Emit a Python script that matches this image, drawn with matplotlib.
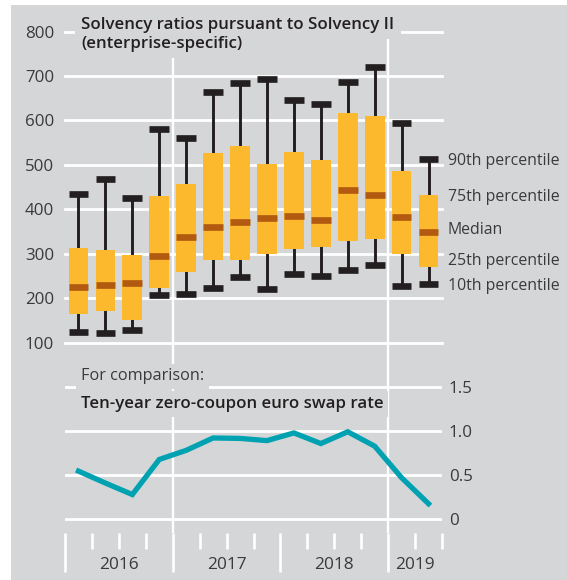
import numpy as np
import matplotlib
matplotlib.use('Agg')
import matplotlib.pyplot as plt
from matplotlib.patches import Rectangle
import matplotlib.transforms as mtransforms

plt.rcParams['font.family'] = ['Open Sans', 'DejaVu Sans']

# solvency ratios per quarter, Q1 2016 .. Q2 2019 (percentiles in %)
quarters = ['Q1 2016', 'Q2 2016', 'Q3 2016', 'Q4 2016',
            'Q1 2017', 'Q2 2017', 'Q3 2017', 'Q4 2017',
            'Q1 2018', 'Q2 2018', 'Q3 2018', 'Q4 2018',
            'Q1 2019', 'Q2 2019']
p90 = [434, 468, 425, 580, 560, 663, 684, 693, 646, 636, 686, 720, 594, 513]
p75 = [313, 308, 297, 430, 458, 526, 543, 503, 529, 510, 616, 610, 486, 432]
median = [225, 229, 234, 294, 337, 360, 371, 380, 385, 376, 443, 432, 382, 348]
p25 = [165, 171, 152, 222, 258, 285, 285, 300, 311, 315, 329, 333, 300, 270]
p10 = [123, 121, 128, 207, 209, 222, 247, 220, 254, 249, 263, 274, 227, 231]

# ten-year zero-coupon euro swap rate (%)
swap_rate = [0.545, 0.41, 0.28, 0.677, 0.78, 0.92, 0.915, 0.89, 0.977, 0.857, 0.99, 0.827, 0.47, 0.176]

years = ['2016', '2017', '2018', '2019']
quarters_per_year = [4, 4, 4, 2]

legend_labels = ['90th percentile', '75th percentile', 'Median', '25th percentile', '10th percentile']
legend_y = [509, 427, 353, 284, 228]

bg = '#d5d6d8'
orange = '#fdb92e'
dark_orange = '#b15a10'
black = '#231f20'
teal = '#00a2b2'
text_col = '#3a3a3a'

W, H = 567, 580
fig = plt.figure(figsize=(W / 100, H / 100), dpi=100)
fig.patch.set_facecolor('white')
fig.patches.append(Rectangle((11 / W, 0), 1 - 11 / W, 1 - 5 / H, transform=fig.transFigure,
                             facecolor=bg, edgecolor='none', zorder=-10))


def px_box(left, top, right, bottom):
    return [left / W, 1 - bottom / H, (right - left) / W, (bottom - top) / H]


x = np.arange(len(quarters))
xlim = (-0.5, len(quarters) - 0.5)
year_edges = np.concatenate([[0], np.cumsum(quarters_per_year)]) - 0.5

# ---- top panel: solvency ratios
ax = fig.add_axes(px_box(65, 31.5, 442, 363))
ax.set_facecolor('none')
ax.set_xlim(xlim)
ax.set_ylim(800 - 331.5 / 0.4445, 800)
ax.set_yticks(np.arange(100, 801, 100))
for v in ax.get_yticks():
    ax.axhline(v, color='white', lw=2, zorder=1, clip_on=False)
for e in year_edges[[1, 3]]:
    ax.axvline(e, color='white', lw=1.7, zorder=1)

w = 0.73
ax.vlines(x, p10, p90, color=black, lw=2.1, zorder=2)
ax.bar(x, np.array(p75) - np.array(p25), bottom=p25, width=w, color=orange, zorder=3)
ax.hlines(median, x - w / 2, x + w / 2, color=dark_orange, lw=4.8, zorder=4)
ax.hlines(p90, x - w / 2, x + w / 2, color=black, lw=4.8, zorder=4)
ax.hlines(p10, x - w / 2, x + w / 2, color=black, lw=4.8, zorder=4)

for lab, yv in zip(legend_labels, legend_y):
    ax.annotate(lab, xy=(1, yv), xycoords=('axes fraction', 'data'), xytext=(4, 0),
                textcoords='offset points', va='center', ha='left', fontsize=11.4, color=text_col)

for s in ax.spines.values():
    s.set_visible(False)
ax.set_xticks([])
ax.tick_params(axis='y', length=0, pad=8, labelsize=12.2, labelcolor=text_col)

# ---- bottom panel: swap rate
ax2 = fig.add_axes(px_box(65, 363, 442, 533))
ax2.set_facecolor('none')
ax2.set_xlim(xlim)
ax2.set_ylim(-13.7 / 88.4, 156.3 / 88.4)
ax2.set_yticks([0, 0.5, 1.0, 1.5])
ax2.set_yticklabels(['0', '0.5', '1.0', '1.5'])
for v in ax2.get_yticks():
    ax2.axhline(v, color='white', lw=2, zorder=1)
for e in year_edges[[1, 3]]:
    ax2.axvline(e, color='white', lw=1.7, zorder=1)

ax2.plot(x, swap_rate, color=teal, lw=3.8, zorder=3, solid_joinstyle='miter')

for s in ax2.spines.values():
    s.set_visible(False)
ax2.yaxis.tick_right()
ax2.tick_params(axis='y', length=0, pad=5, labelsize=12.2, labelcolor=text_col)
all_edges = np.arange(len(quarters) + 1) - 0.5
ax2.set_xticks(year_edges[:-1])
ax2.set_xticks([e for e in all_edges if e not in year_edges[:-1]], minor=True)
ax2.tick_params(axis='x', which='major', direction='out', length=28, width=1.9,
                color='white', labelbottom=False)
ax2.tick_params(axis='x', which='minor', direction='out', length=11.5, width=1.9,
                color='white', labelbottom=False)

trans = mtransforms.blended_transform_factory(ax2.transData, ax2.transAxes)
for yr, a, b in zip(years, year_edges[:-1], year_edges[1:]):
    ax2.text((a + b) / 2, -32 / 170, yr, transform=trans, ha='center', va='center',
             fontsize=12.4, color=text_col)


# ---- titles with background boxes that hide the grid behind them
def title(xp, yp, s, weight, size, pad):
    fig.text(xp / W, 1 - yp / H, s, fontsize=size, fontweight=weight, color='none', va='center',
             bbox=dict(boxstyle='square,pad=%s' % pad, facecolor=bg, edgecolor='none'), zorder=5)
    fig.text(xp / W, 1 - yp / H, s, fontsize=size, fontweight=weight,
             color=black if weight != 'normal' else text_col, va='center', zorder=6)


title(81, 25, 'Solvency ratios pursuant to Solvency II', 'semibold', 12.2, 0.38)
title(81, 43.5, '(enterprise-specific)', 'semibold', 12.2, 0.38)
title(81, 376.5, 'For comparison:', 'normal', 11.7, 0.28)
title(81, 404, 'Ten-year zero-coupon euro swap rate', 'semibold', 12.2, 0.28)

fig.savefig('out.png', dpi=100, facecolor=fig.get_facecolor())
